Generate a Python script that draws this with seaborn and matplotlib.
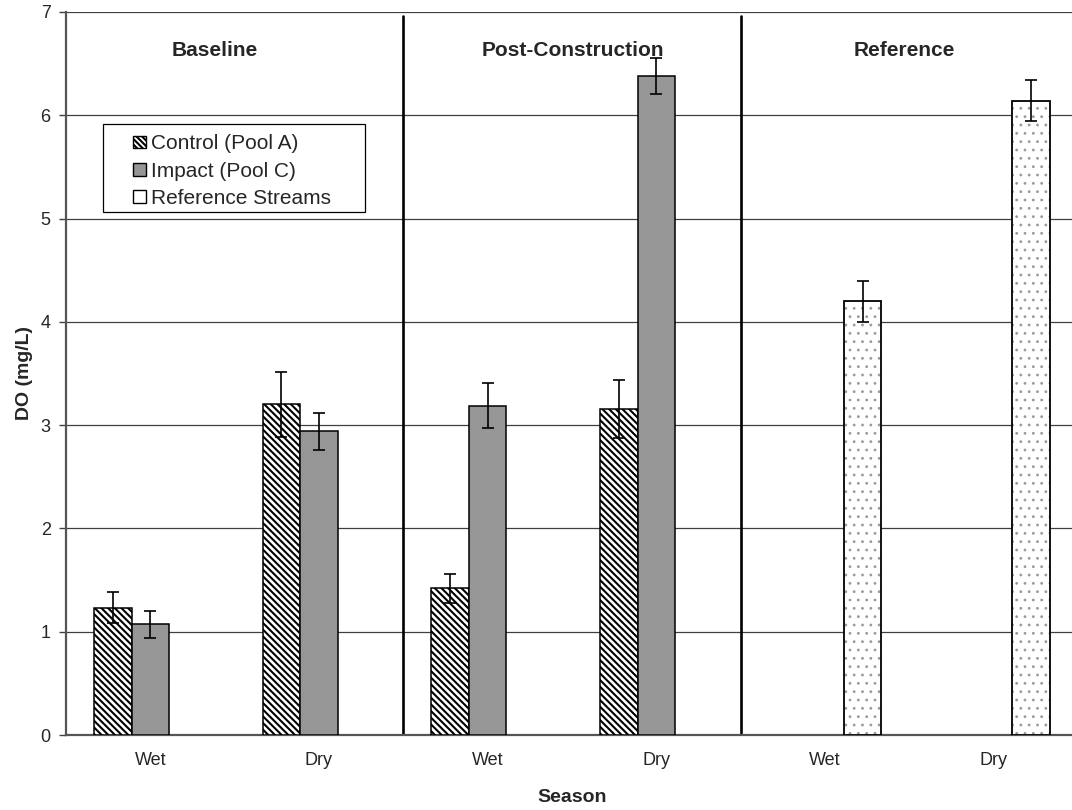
import numpy as np
import pandas as pd
import matplotlib
matplotlib.use("Agg")
import matplotlib.pyplot as plt
import seaborn as sns
from matplotlib.patches import Patch, Rectangle
from matplotlib.legend_handler import HandlerPatch

# ============================================================
#  Data
# ============================================================
periods = ["Baseline", "Post-Construction", "Reference"]
seasons = ["Wet", "Dry"]
series_names = ["Control (Pool A)", "Impact (Pool C)", "Reference Streams"]

control_mean = [1.23, 3.20, 1.42, 3.16, np.nan, np.nan]
control_err = [0.15, 0.31, 0.14, 0.28, np.nan, np.nan]
impact_mean = [1.07, 2.94, 3.19, 6.38, np.nan, np.nan]
impact_err = [0.135, 0.18, 0.215, 0.175, np.nan, np.nan]
reference_mean = [np.nan, np.nan, np.nan, np.nan, 4.20, 6.14]
reference_err = [np.nan, np.nan, np.nan, np.nan, 0.20, 0.20]

y_ticks = [0, 1, 2, 3, 4, 5, 6, 7]

# ============================================================
#  Long table for seaborn
# ============================================================
cat_order = [f"{p} {s}" for p in periods for s in seasons]
cat_season = [s for p in periods for s in seasons]

rows = []
for name, means, errs in zip(series_names,
                             [control_mean, impact_mean, reference_mean],
                             [control_err, impact_err, reference_err]):
    for i, cat in enumerate(cat_order):
        if not np.isnan(means[i]):
            rows.append({"cat": cat, "series": name, "do": means[i], "err": errs[i], "ci": i})
df = pd.DataFrame(rows)
err_lookup = {(r.series, r.ci): r.err for r in df.itertuples()}

# ============================================================
#  Plot
# ============================================================
sns.set_style("white")
plt.rcParams["font.family"] = ["Liberation Sans", "DejaVu Sans"]
plt.rcParams["hatch.linewidth"] = 1.5

fig = plt.figure(figsize=(10.72, 8.1), dpi=100)
ax = fig.add_axes([66 / 1072, 75 / 810, 1012 / 1072, 723 / 810])

sns.barplot(data=df, x="cat", y="do", hue="series", order=cat_order,
            hue_order=series_names, palette=["white", "#969696", "white"],
            saturation=1, width=0.667, errorbar=None, legend=False, ax=ax, zorder=3)

gray_dots = "#9a9a9a"
for name, cont in zip(series_names, ax.containers):
    for p in cont:
        p.set_edgecolor("black")
        p.set_linewidth(1.1)
        if name == "Control (Pool A)":
            p.set_facecolor("white")
            p.set_hatch("\\\\\\\\\\")
        elif name == "Reference Streams":
            p.set_facecolor("white")
            p.set_edgecolor(gray_dots)
            p.set_linewidth(0)
            p.set_hatch("..")
            if hasattr(p, "set_hatch_linewidth"):
                p.set_hatch_linewidth(0.8)
            ax.add_patch(Rectangle((p.get_x(), 0), p.get_width(), p.get_height(),
                                   fill=False, edgecolor="black", linewidth=1.3, zorder=4))

# error bars
xs, ys, es = [], [], []
for name, cont in zip(series_names, ax.containers):
    for p in cont:
        xc = p.get_x() + p.get_width() / 2
        if np.isnan(p.get_height()):
            continue
        xs.append(xc)
        ys.append(p.get_height())
        es.append(err_lookup[(name, int(round(xc)))])
ax.errorbar(xs, ys, yerr=es, fmt="none", ecolor="black", elinewidth=1.2,
            capsize=4, capthick=1.2, zorder=5)

# axes styling
ax.set_xlim(-0.5, 5.5)
ax.set_ylim(0, 7)
ax.set_yticks(y_ticks)
ax.set_yticklabels([str(t) for t in y_ticks], fontsize=13)
ax.set_xticks(range(len(cat_order)))
ax.set_xticklabels(cat_season, fontsize=13)
ax.set_xticks(np.arange(0.5, 5.0, 1.0), minor=True)
ax.tick_params(axis="x", which="major", length=0, pad=12)
ax.tick_params(axis="x", which="minor", direction="in", length=5, width=1, color="#404040")
ax.tick_params(axis="y", which="major", direction="out", length=5, width=1,
               color="#404040", pad=6, left=True)

ax.yaxis.grid(True, color="#404040", linewidth=0.9, zorder=0)
ax.xaxis.grid(False)
ax.set_axisbelow(True)
for side in ["top", "right"]:
    ax.spines[side].set_visible(False)
for side in ["left", "bottom"]:
    ax.spines[side].set_color("#555555")
    ax.spines[side].set_linewidth(1.6)

# period separators and titles
for xsep in [1.5, 3.5]:
    ax.axvline(xsep, ymin=0, ymax=0.995, color="black", linewidth=1.9, zorder=2)
title_x = [0.381, 2.503, 4.473]
for tx, label in zip(title_x, periods):
    ax.text(tx, 6.63, label, ha="center", va="center", fontsize=15, fontweight="bold")

ax.set_xlabel("Season", fontsize=14, fontweight="bold")
ax.set_ylabel("DO (mg/L)", fontsize=14, fontweight="bold")
ax.xaxis.set_label_coords(0.5, -0.075)
ax.yaxis.set_label_coords(-0.0326, 0.5)


# legend with small squares pushed to the right of the handle box
def square_patch(legend, orig_handle, xdescent, ydescent, width, height, fontsize):
    s = 0.6 * fontsize
    return Rectangle((-xdescent + width - s, -ydescent + (height - s) / 2), s, s)


handles = [
    Patch(facecolor="white", edgecolor="black", hatch="\\\\\\\\\\\\", linewidth=1.0),
    Patch(facecolor="#969696", edgecolor="black", linewidth=1.0),
    Patch(facecolor="white", edgecolor="black", linewidth=1.0),
]
leg = ax.legend(handles, series_names, loc="upper left", bbox_to_anchor=(0.0366, 0.845),
                borderaxespad=0, fontsize=15, handlelength=1.56, handletextpad=0.25,
                borderpad=0.5, labelspacing=0.39, frameon=False,
                handler_map={Patch: HandlerPatch(patch_func=square_patch)})
leg.set_zorder(6)
# legend box drawn separately (wider right padding, as in the source chart)
ax.add_patch(Rectangle((0.0366, 0.7234), 0.2589, 0.1216, transform=ax.transAxes,
                       facecolor="white", edgecolor="black", linewidth=0.9, zorder=5.5))

fig.savefig("out.png", dpi=100)
